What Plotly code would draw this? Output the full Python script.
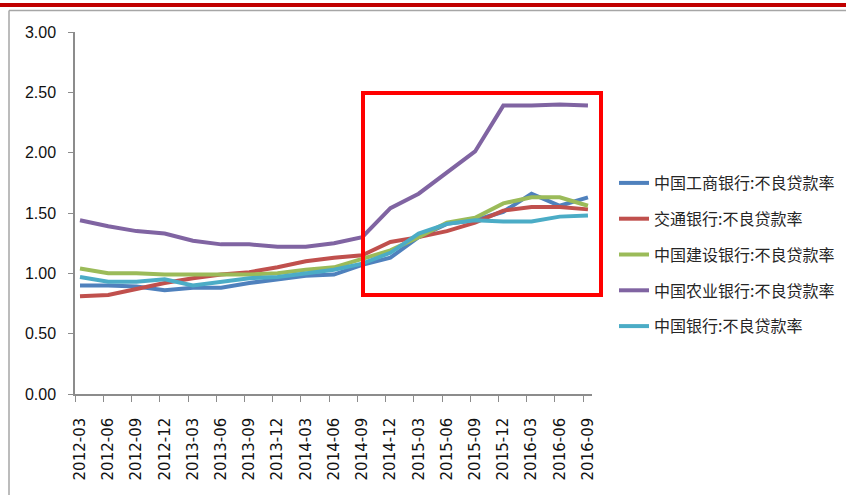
import plotly.graph_objects as go

categories = ["2012-03", "2012-06", "2012-09", "2012-12", "2013-03", "2013-06", "2013-09",
              "2013-12", "2014-03", "2014-06", "2014-09", "2014-12", "2015-03", "2015-06",
              "2015-09", "2015-12", "2016-03", "2016-06", "2016-09"]

icbc = [0.90, 0.90, 0.89, 0.86, 0.88, 0.88, 0.92, 0.95, 0.98, 0.99, 1.07, 1.13, 1.30, 1.41, 1.44, 1.51, 1.66, 1.56, 1.63]
bocom = [0.81, 0.82, 0.87, 0.92, 0.96, 0.99, 1.01, 1.05, 1.10, 1.13, 1.15, 1.26, 1.30, 1.35, 1.42, 1.52, 1.55, 1.55, 1.53]
ccb = [1.04, 1.00, 1.00, 0.99, 0.99, 0.99, 0.99, 1.00, 1.03, 1.05, 1.12, 1.19, 1.30, 1.42, 1.46, 1.58, 1.63, 1.63, 1.56]
abc = [1.44, 1.39, 1.35, 1.33, 1.27, 1.24, 1.24, 1.22, 1.22, 1.25, 1.30, 1.54, 1.66, 1.83, 2.01, 2.39, 2.39, 2.40, 2.39]
boc = [0.97, 0.93, 0.93, 0.95, 0.90, 0.93, 0.96, 0.97, 1.00, 1.03, 1.08, 1.17, 1.33, 1.41, 1.44, 1.43, 1.43, 1.47, 1.48]

series_names = ["中国工商银行:不良贷款率", "交通银行:不良贷款率", "中国建设银行:不良贷款率",
                "中国农业银行:不良贷款率", "中国银行:不良贷款率"]
series_values = [icbc, bocom, ccb, abc, boc]
colors = ["#4F81BD", "#C0504D", "#9BBB59", "#8064A2", "#4BACC6"]

yticks = [0, 0.5, 1.0, 1.5, 2.0, 2.5, 3.0]

W, H = 846, 495
L, R, T, B = 75, 254, 32, 101
PW, PH = W - L - R, H - T - B

def px(xp):
    return (xp - L) / PW

def py(yp):
    return (H - B - yp) / PH

idx = list(range(len(categories)))

fig = go.Figure()
for i, (name, vals, col) in enumerate(zip(series_names, series_values, colors)):
    fig.add_trace(go.Scatter(
        x=idx, y=vals, mode="lines", name=name,
        line=dict(color=col, width=4),
        legendgroup=f"g{i}",
    ))

axis_col = "#8C8C8C"
fig.update_layout(
    width=W, height=H,
    margin=dict(l=L, r=R, t=T, b=B, pad=0, autoexpand=False),
    paper_bgcolor="white", plot_bgcolor="white",
    showlegend=True,
    legend=dict(
        x=px(614), y=py(166), xanchor="left", yanchor="top",
        font=dict(family="Noto Sans CJK SC", size=16, color="#262626"),
        traceorder="grouped", tracegroupgap=12,
        bgcolor="rgba(0,0,0,0)", borderwidth=0,
        itemwidth=30,
    ),
    xaxis=dict(
        range=[-0.177, 18.143],
        tickmode="array", tickvals=idx, ticktext=categories,
        tickangle=-90, ticks="",
        tickfont=dict(family="DejaVu Sans", size=15, color="#111"),
        showline=True, linecolor=axis_col, linewidth=1.5,
        showgrid=False, zeroline=False,
        ticklabelstandoff=16,
        automargin=False,
        minor=dict(tickmode="array", tickvals=[k - 0.17 for k in idx], ticks="outside",
                   ticklen=6, tickcolor=axis_col, tickwidth=1.2, showgrid=False),
    ),
    yaxis=dict(
        range=[0, 3],
        tickmode="array", tickvals=yticks, ticktext=[f"{v:.2f}" for v in yticks],
        ticks="outside", ticklen=5, tickcolor=axis_col, tickwidth=1.2,
        tickfont=dict(family="Liberation Sans Narrow, Liberation Sans, Arial", size=16, color="#111"),
        showline=True, linecolor=axis_col, linewidth=1.5,
        showgrid=False, zeroline=False,
        ticklabelstandoff=9,
        automargin=False,
    ),
    shapes=[
        # red band at top
        dict(type="rect", xref="paper", yref="paper", x0=px(0), x1=px(W), y0=py(7), y1=py(3),
             fillcolor="#C00000", line=dict(width=0), layer="above"),
        # gray frame
        dict(type="line", xref="paper", yref="paper", x0=px(9), x1=px(W), y0=py(10.5), y1=py(10.5),
             line=dict(color="#A6A6A6", width=1.5)),
        dict(type="line", xref="paper", yref="paper", x0=px(9), x1=px(9), y0=py(10.5), y1=py(H),
             line=dict(color="#A6A6A6", width=1.5)),
        # red highlight box
        dict(type="rect", xref="paper", yref="paper", x0=px(363), x1=px(601), y0=py(295), y1=py(93),
             line=dict(color="#FF0000", width=4), fillcolor="rgba(0,0,0,0)", layer="above"),
    ],
)

fig.write_html("out.html")
